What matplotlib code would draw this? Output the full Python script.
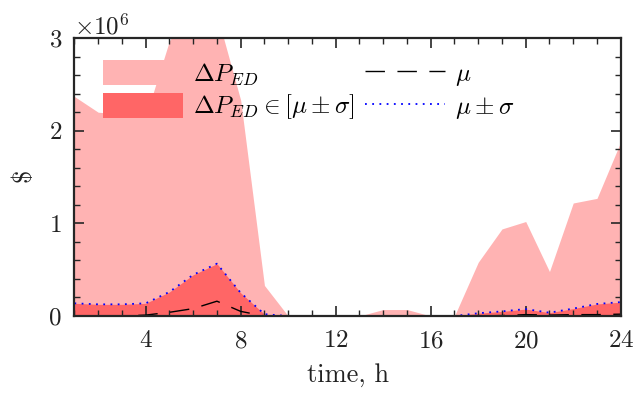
import numpy as np
import matplotlib
matplotlib.use('Agg')
import matplotlib.pyplot as plt
from matplotlib.ticker import MultipleLocator

# 时段 (h)
hours = list(range(1, 25))

# ΔP_ED 上包络 (单位 1e6 $)
dp_upper = [2.37, 2.20, 2.18, 2.15, 2.97, 3.40, 3.26, 2.33, 0.33, 0.0, 0.0, 0.0,
            0.0, 0.07, 0.07, 0.0, 0.0, 0.58, 0.94, 1.02, 0.48, 1.22, 1.27, 1.88]

# μ+σ
mu_plus_sigma = [0.137, 0.126, 0.126, 0.137, 0.26, 0.445, 0.565, 0.25, 0.02, 0.0, 0.0, 0.0,
                 0.0, 0.0, 0.0, 0.0, 0.0, 0.03, 0.05, 0.075, 0.036, 0.08, 0.13, 0.15]

# μ
mu = [0.0, 0.0, 0.0, 0.01, 0.04, 0.08, 0.16, 0.05, 0.0, 0.0, 0.0, 0.0,
      0.0, 0.0, 0.0, 0.0, 0.0, 0.0, 0.005, 0.015, 0.01, 0.015, 0.015, 0.02]

scale = 1e6
dp_upper = np.array(dp_upper) * scale
mu_plus_sigma = np.array(mu_plus_sigma) * scale
mu = np.array(mu) * scale
zeros = np.zeros(len(hours))

plt.rcParams['font.family'] = 'serif'
plt.rcParams['font.serif'] = ['cmr10']
plt.rcParams['mathtext.fontset'] = 'cm'
plt.rcParams['axes.formatter.use_mathtext'] = True
plt.rcParams['axes.unicode_minus'] = False

light = (1.0, 0.70, 0.70)
dark = (1.0, 0.40, 0.40)
edge = '#262626'
txt = '#222222'

fig = plt.figure(figsize=(6.36, 3.97), dpi=100)
ax = fig.add_axes([0.117, 0.204, 0.859, 0.700])

h1 = ax.fill_between(hours, zeros, dp_upper, color=light, linewidth=0, label=r'$\Delta P_{ED}$')
h2 = ax.fill_between(hours, zeros, mu_plus_sigma, color=dark, linewidth=0,
                     label=r'$\Delta P_{ED}\in[\mu\pm\sigma]$')
l1, = ax.plot(hours, mu, color='black', linewidth=1.0, linestyle=(0, (14, 9)), label=r'$\mu$')
l2, = ax.plot(hours, mu_plus_sigma, color='blue', linewidth=1.3, linestyle=(0, (1, 3)),
              label=r'$\mu\pm\sigma$')

ax.set_xlim(1, 24)
ax.set_ylim(0, 3e6)
ax.xaxis.set_major_locator(MultipleLocator(4))
ax.xaxis.set_minor_locator(MultipleLocator(1))
ax.yaxis.set_major_locator(MultipleLocator(1e6))
ax.yaxis.set_minor_locator(MultipleLocator(0.2e6))
ax.ticklabel_format(axis='y', style='sci', scilimits=(6, 6))

ax.tick_params(which='both', direction='in', top=True, right=True, colors=edge,
               labelcolor=txt, labelsize=18)
ax.tick_params(which='major', length=7, width=1.2)
ax.tick_params(axis='x', which='major', pad=10)
ax.tick_params(axis='y', which='major', pad=9)
ax.tick_params(which='minor', length=4, width=1.0)
ax.yaxis.get_offset_text().set_fontsize(18)
ax.yaxis.get_offset_text().set_color(txt)
for s in ax.spines.values():
    s.set_color(edge)
    s.set_linewidth(1.6)

ax.set_xlabel('time, h', fontsize=19, color=txt, labelpad=8)
ax.set_ylabel(r'$\$$', fontsize=19, color=txt, labelpad=8)

ax.legend(handles=[h1, h2, l1, l2], ncol=2, frameon=False, fontsize=18,
          loc='upper left', bbox_to_anchor=(0.052, 0.92), borderpad=0, borderaxespad=0,
          handlelength=3.2, handleheight=1.16, handletextpad=0.4,
          columnspacing=0.4, labelspacing=0.2)

fig.savefig('out.png', dpi=100)
